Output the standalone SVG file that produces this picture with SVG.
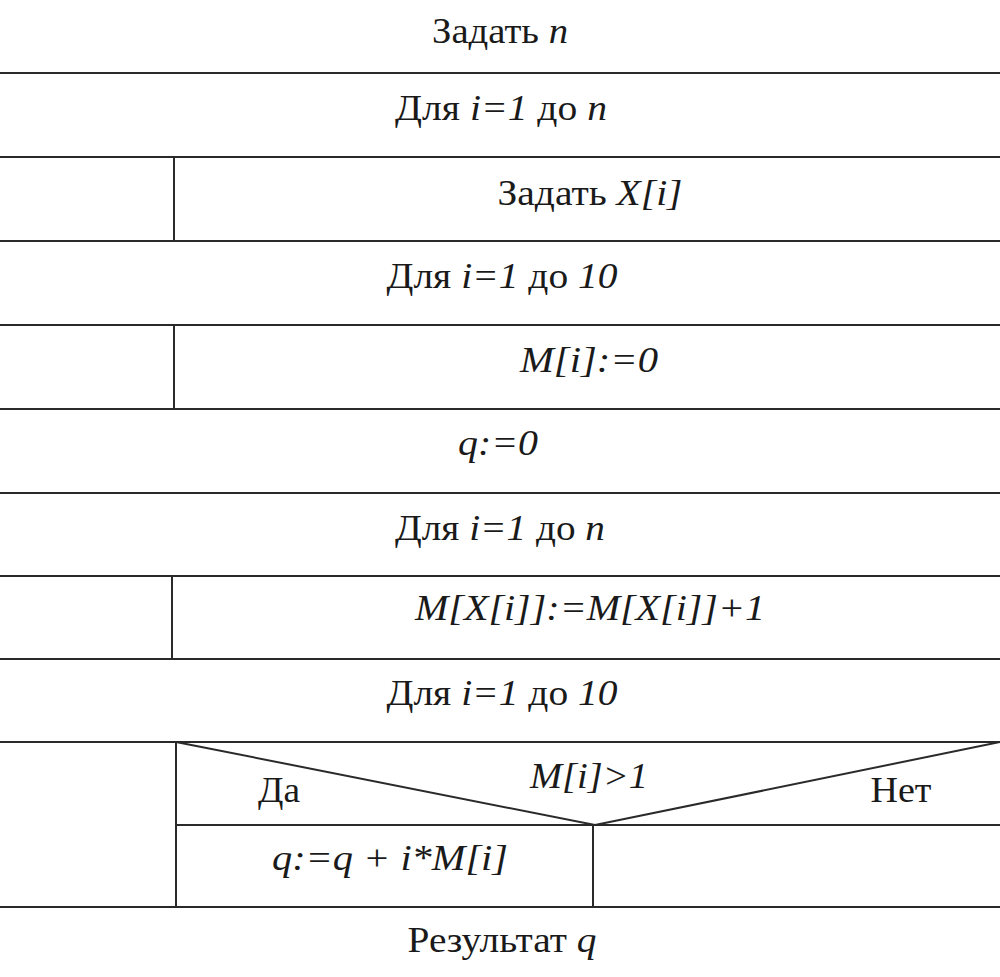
<svg xmlns="http://www.w3.org/2000/svg" width="1000" height="977" viewBox="0 0 1000 977">
<style>
text{font-family:'Liberation Serif','Times New Roman',serif;font-size:36px;fill:#1a1a1a;text-anchor:middle}
.i{font-style:italic}
.ln{stroke:#2a2a2a;stroke-width:2;fill:none}
</style>
<rect width="1000" height="977" fill="#fff"/>
<g id="connectors" class="ln">
<line x1="0" y1="73" x2="1000" y2="73"/>
<line x1="0" y1="157" x2="1000" y2="157"/>
<line x1="0" y1="241" x2="1000" y2="241"/>
<line x1="0" y1="325" x2="1000" y2="325"/>
<line x1="0" y1="409" x2="1000" y2="409"/>
<line x1="0" y1="493" x2="1000" y2="493"/>
<line x1="0" y1="576" x2="1000" y2="576"/>
<line x1="0" y1="659" x2="1000" y2="659"/>
<line x1="0" y1="742" x2="1000" y2="742"/>
<line x1="176" y1="825" x2="1000" y2="825"/>
<line x1="0" y1="907" x2="1000" y2="907"/>
<line x1="174" y1="157" x2="174" y2="241"/>
<line x1="174" y1="325" x2="174" y2="409"/>
<line x1="172" y1="576" x2="172" y2="659"/>
<line x1="176" y1="742" x2="176" y2="907"/>
<line x1="593" y1="825" x2="593" y2="907"/>
<polyline points="176,742 595,825 1000,742"/>
</g>
<g id="n1"><text x="500" y="43" textLength="136" lengthAdjust="spacingAndGlyphs">Задать <tspan class="i">n</tspan></text></g>
<g id="n2"><text x="501" y="120" textLength="212" lengthAdjust="spacingAndGlyphs">Для <tspan class="i">i=1</tspan> до <tspan class="i">n</tspan></text></g>
<g id="n3"><text x="590" y="205" textLength="185" lengthAdjust="spacingAndGlyphs">Задать <tspan class="i">X[i]</tspan></text></g>
<g id="n4"><text x="502" y="288" textLength="231" lengthAdjust="spacingAndGlyphs">Для <tspan class="i">i=1</tspan> до <tspan class="i">10</tspan></text></g>
<g id="n5"><text class="i" x="589" y="372" textLength="138" lengthAdjust="spacingAndGlyphs">M[i]:=0</text></g>
<g id="n6"><text class="i" x="498" y="455" textLength="80" lengthAdjust="spacingAndGlyphs">q:=0</text></g>
<g id="n7"><text x="500" y="540" textLength="210" lengthAdjust="spacingAndGlyphs">Для <tspan class="i">i=1</tspan> до <tspan class="i">n</tspan></text></g>
<g id="n8"><text class="i" x="590" y="620" textLength="350" lengthAdjust="spacingAndGlyphs">M[X[i]]:=M[X[i]]+1</text></g>
<g id="n9"><text x="502" y="705" textLength="231" lengthAdjust="spacingAndGlyphs">Для <tspan class="i">i=1</tspan> до <tspan class="i">10</tspan></text></g>
<g id="n10">
<text x="279" y="802" textLength="42" lengthAdjust="spacingAndGlyphs">Да</text>
<text class="i" x="589" y="788" textLength="118" lengthAdjust="spacingAndGlyphs">M[i]&gt;1</text>
<text x="901" y="802" textLength="61" lengthAdjust="spacingAndGlyphs">Нет</text>
</g>
<g id="n11"><text class="i" x="390" y="870" textLength="236" lengthAdjust="spacingAndGlyphs">q:=q + i*M[i]</text></g>
<g id="n12"><text x="502" y="952" textLength="189" lengthAdjust="spacingAndGlyphs">Результат <tspan class="i">q</tspan></text></g>
</svg>
